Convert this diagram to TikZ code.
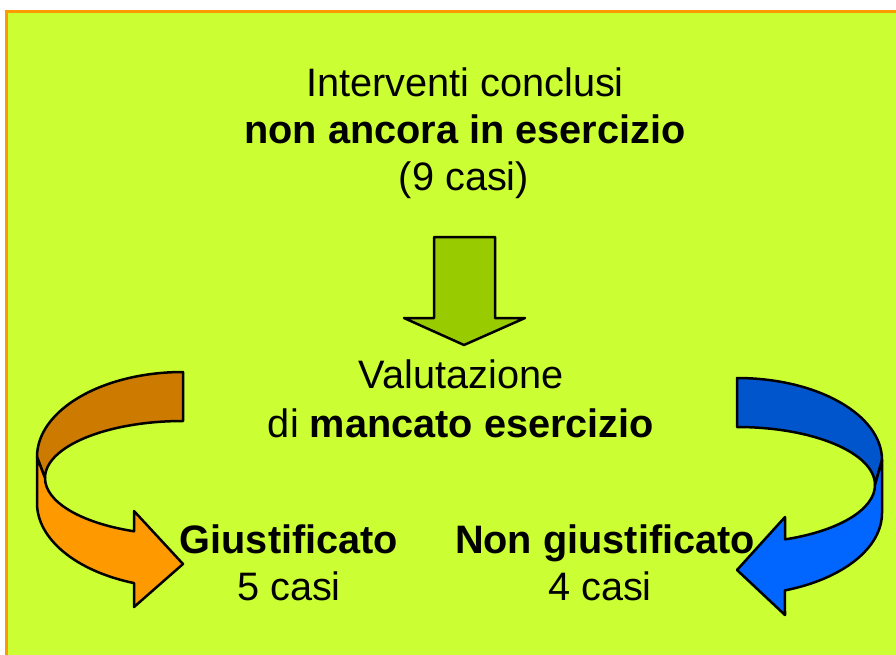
\documentclass[tikz,border=0pt]{standalone}
\usepackage{fontspec}
\setmainfont{Liberation Sans}
\definecolor{bg}{RGB}{204,255,51}
\definecolor{frameorange}{RGB}{255,153,0}
\definecolor{greenarrow}{RGB}{153,204,0}
\definecolor{orangefront}{RGB}{255,153,0}
\definecolor{orangeback}{RGB}{204,122,0}
\definecolor{bluefront}{RGB}{0,102,255}
\definecolor{blueback}{RGB}{0,85,204}
\begin{document}
\begin{tikzpicture}[x=1pt,y=1pt,
  arrowshape/.style={draw=black, line width=2.5pt, line join=round},
  txt/.style={anchor=base, inner sep=0pt, font=\fontsize{39.7}{47}\selectfont},
  btxt/.style={anchor=base, inner sep=0pt, font=\fontsize{39.7}{47}\selectfont\bfseries}]
\useasboundingbox (0,0) rectangle (896,-654);
\clip (0,0) rectangle (896,-654);
% background panel
\draw[draw=frameorange, fill=bg, line width=3pt] (6.5,-11.5) rectangle (905,-665);

% green down arrow
\draw[arrowshape, fill=greenarrow] (434,-237) -- (495,-237) -- (495,-318) -- (525,-318)
  -- (464,-345) -- (404,-318) -- (434,-318) -- cycle;

% left curved arrow (orange)
\draw[arrowshape, fill=orangeback] (183,-372) arc[start angle=90, end angle=180, x radius=146, y radius=85]
  -- (45,-478) arc[start angle=180, end angle=90, x radius=138, y radius=57] -- cycle;
\draw[arrowshape, fill=orangefront] (37,-457) -- (45,-478)
  arc[start angle=180, end angle=249.2, x radius=138, y radius=57]
  -- (134,-511) -- (183,-564) -- (134,-607)
  -- ([shift={(183,-503)}]250.4:146pt and 85pt)
  arc[start angle=250.4, end angle=180, x radius=146, y radius=85] -- cycle;

% right curved arrow (blue)
\draw[arrowshape, fill=blueback] (737,-378) arc[start angle=90, end angle=0, x radius=145, y radius=82]
  -- (875,-485) arc[start angle=0, end angle=90, x radius=138, y radius=58] -- cycle;
\draw[arrowshape, fill=bluefront] (882,-460) -- (875,-485)
  arc[start angle=0, end angle=-69.6, x radius=138, y radius=58]
  -- (785,-517) -- (737,-570) -- (785,-615)
  -- ([shift={(737,-513)}]-70.7:145pt and 82pt)
  arc[start angle=-70.7, end angle=0, x radius=145, y radius=82] -- cycle;

% texts
\node[txt]  (t1) at (465,-96)  {Interventi conclusi};
\node[btxt] (t2) at (465,-143) {non ancora in esercizio};
\node[txt]  (t3) at (464,-190) {(9 casi)};
\node[txt]  (v1) at (461,-388) {Valutazione};
\node[txt]  (v2) at (461,-437) {di \textbf{mancato esercizio}};
\node[btxt] (g1) at (289,-553) {Giustificato};
\node[txt]  (g2) at (289,-600) {5 casi};
\node[btxt] (n1) at (605,-553) {Non giustificato};
\node[txt]  (n2) at (600,-600) {4 casi};
\end{tikzpicture}
\end{document}
